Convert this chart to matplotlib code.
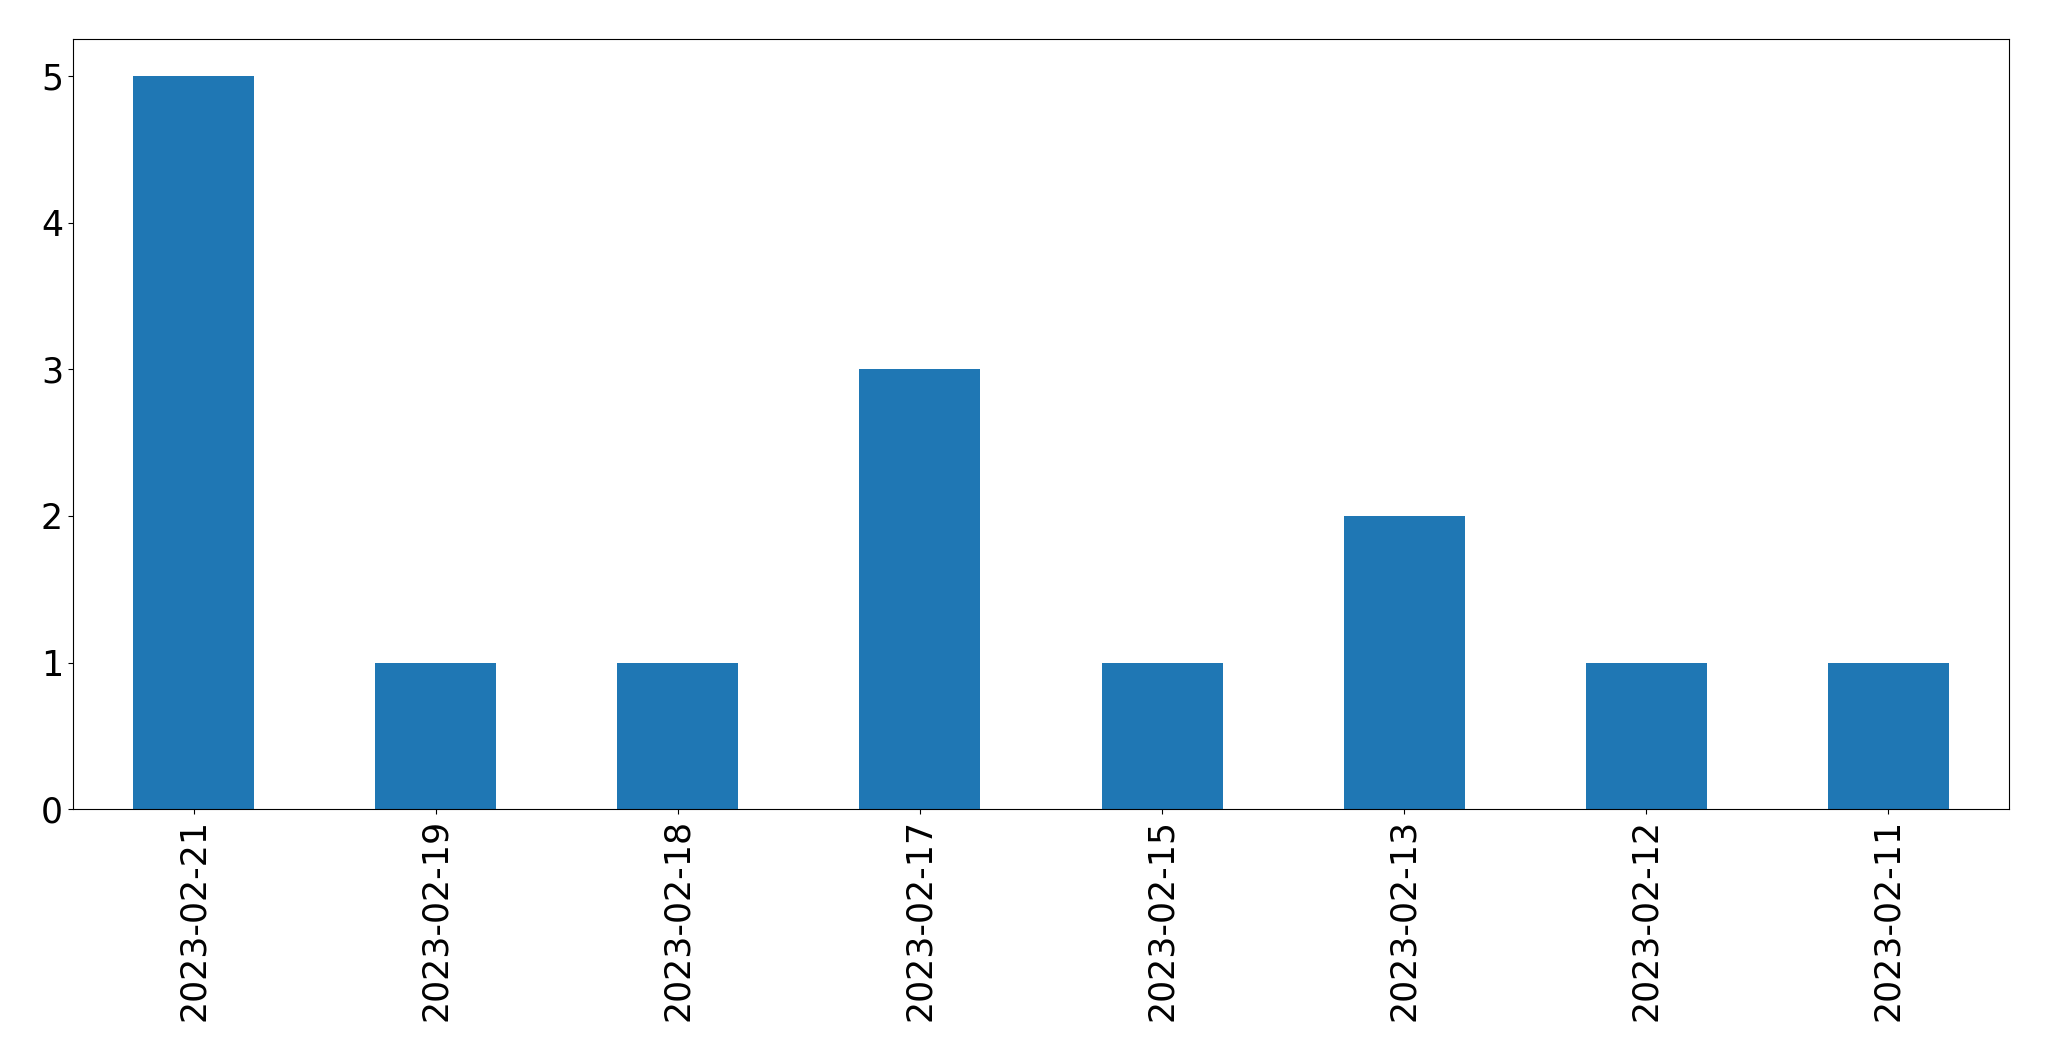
import matplotlib
matplotlib.use("Agg")
import matplotlib.pyplot as plt
import numpy as np

# counts per day, in the order the bars are drawn
dates = ["2023-02-21", "2023-02-19", "2023-02-18", "2023-02-17",
         "2023-02-15", "2023-02-13", "2023-02-12", "2023-02-11"]
counts = [5, 1, 1, 3, 1, 2, 1, 1]

fig = plt.figure(figsize=(20.49, 10.61), dpi=100)
W, H = 2049, 1061
left, right, top, bottom = 72.7, 2009.3, 39.3, 809.3
ax = fig.add_axes([left / W, 1 - bottom / H, (right - left) / W, (bottom - top) / H])

x = np.arange(len(dates))
ax.bar(x, counts, width=0.5, color="#1f77b4")
ax.set_xlim(-0.5, len(dates) - 0.5)
ax.set_ylim(0, max(counts) * 1.05)
ax.set_xticks(x)
ax.set_xticklabels(dates, rotation=90)
ax.tick_params(axis="both", labelsize=25)

fig.savefig("out.png", dpi=100)
